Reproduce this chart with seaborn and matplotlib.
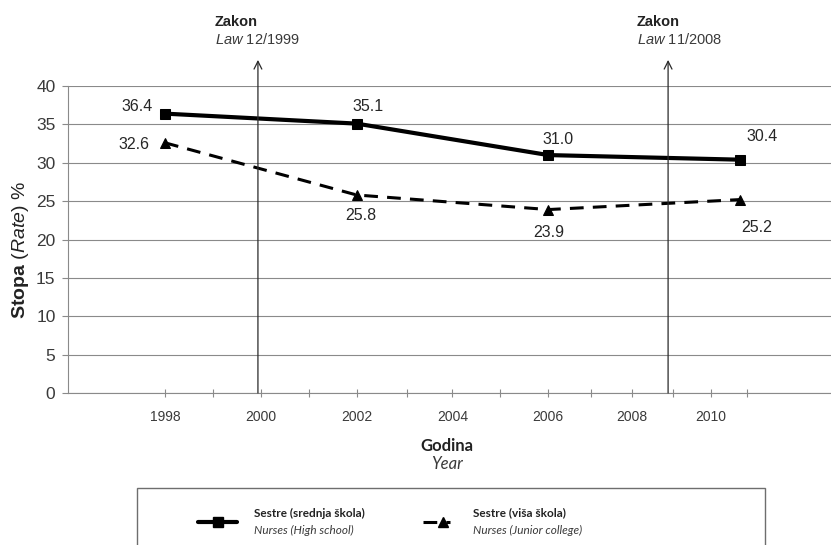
import matplotlib
matplotlib.use("Agg")
import matplotlib.pyplot as plt
from matplotlib.lines import Line2D
from matplotlib.patches import Rectangle
import pandas as pd
import seaborn as sns

# ---- data -------------------------------------------------------------
years = [1998, 2002, 2006, 2010]
high_school = [36.4, 35.1, 31.0, 30.4]
junior_college = [32.6, 25.8, 23.9, 25.2]

x_tick_pos = [1998, 1999, 2000, 2001, 2002, 2003.05, 2004, 2005, 2006,
              2006.9, 2007.75, 2008.6, 2009.4, 2010.15]
x_tick_text = ["1998", "", "2000", "", "2002", "", "2004", "", "2006",
               "", "2008", "", "2010", ""]
y_ticks = [0, 5, 10, 15, 20, 25, 30, 35, 40]

law_pos = [1999.94, 2008.5]
law_title = ["Zakon", "Zakon"]
law_number = ["12/1999", "11/2008"]

series_bold = ["Sestre (srednja škola)", "Sestre (viša škola)"]
series_italic = ["Nurses (High school)", "Nurses (Junior college)"]

# ---- style ------------------------------------------------------------
sns.set_theme(style="white")
plt.rcParams["font.family"] = ["Liberation Sans", "DejaVu Sans"]
plt.rcParams["mathtext.fontset"] = "custom"
plt.rcParams["mathtext.rm"] = "Liberation Sans"
plt.rcParams["mathtext.it"] = "Liberation Sans:italic"
plt.rcParams["mathtext.bf"] = "Liberation Sans:bold"

W, H = 831, 545
fig = plt.figure(figsize=(W / 100, H / 100), dpi=100)
fig.patch.set_facecolor("white")


def fx(px):
    return px / W


def fy(py):
    return 1 - py / H


ax = fig.add_axes([fx(68), fy(393), fx(831) - fx(68), fy(86) - fy(393)])
ax.set_facecolor("white")

grid_c = "#8a8a8a"
text_c = "#3a3a3a"

df = pd.DataFrame({"year": years, "high": high_school, "junior": junior_college})

sns.lineplot(data=df, x="year", y="high", ax=ax, color="black",
             linewidth=3.0, marker="s", markersize=6.5,
             markeredgecolor="black", markerfacecolor="black")
sns.lineplot(data=df, x="year", y="junior", ax=ax, color="black",
             linewidth=2.2, linestyle=(0, (4.5, 3.0)), marker="^",
             markersize=7, markeredgecolor="black", markerfacecolor="black")

ax.set_xlim(1995.976, 2011.90)
ax.set_ylim(0, 40)

ax.set_yticks(y_ticks)
ax.set_yticklabels([str(v) for v in y_ticks])
ax.set_xticks(x_tick_pos)
ax.set_xticklabels(x_tick_text)
ax.tick_params(axis="y", direction="out", length=4, width=0.8, color=grid_c,
               labelsize=12.5, labelcolor=text_c, pad=5, left=True)
ax.tick_params(axis="x", direction="inout", length=6, width=0.8, color=grid_c,
               labelsize=10, labelcolor=text_c, pad=9, bottom=True)

ax.yaxis.grid(True, color=grid_c, linewidth=0.8)
ax.xaxis.grid(False)
for side in ("top", "right"):
    ax.spines[side].set_visible(False)
for side in ("left", "bottom"):
    ax.spines[side].set_color(grid_c)
    ax.spines[side].set_linewidth(0.8)

ax.set_xlabel("")
ax.set_ylabel("")

# value labels
hs_off = [(-20, 5), (8, 12), (7, 11.5), (16, 16.5)]
jc_off = [(-22, -1.5), (3, -14.5), (0, -16.5), (12, -20)]
for x, y, off in zip(years, high_school, hs_off):
    ax.annotate(f"{y:.1f}", (x, y), xytext=off, textcoords="offset points",
                ha="center", va="center", fontsize=11.5, color="#262626")
for x, y, off in zip(years, junior_college, jc_off):
    ax.annotate(f"{y:.1f}", (x, y), xytext=off, textcoords="offset points",
                ha="center", va="center", fontsize=11.5, color="#262626")

# law markers
title_dx = [-0.9, -0.65]
for xp, t, n, dx in zip(law_pos, law_title, law_number, title_dx):
    ax.annotate("", xy=(xp, 43.4), xytext=(xp, 0),
                arrowprops=dict(arrowstyle="->", color="#2a2a2a", lw=0.9,
                                mutation_scale=14, shrinkA=0, shrinkB=0),
                annotation_clip=False)
    ax.text(xp + dx, 48.3, t, fontsize=10.5, fontweight="bold",
            color="#222222", ha="left", va="center", clip_on=False)
    ax.text(xp + dx, 46.0, r"$\mathit{Law}$ " + n, fontsize=10.5,
            color=text_c, ha="left", va="center", clip_on=False)

# axis titles
fig.text(fx(21), fy(250), r"$\mathbf{Stopa}$ $\mathit{(Rate)}$ %",
         rotation=90, ha="center", va="center", fontsize=14, color="#222222")
fig.text(fx(447), fy(446), "Godina", family=["Lato", "DejaVu Sans"],
         fontweight="bold", fontsize=12, ha="center", va="center",
         color="#222222")
fig.text(fx(447), fy(464), "Year", family=["Lato", "DejaVu Sans"],
         style="italic", fontsize=12, ha="center", va="center", color=text_c)

# legend
fig.add_artist(Rectangle((fx(137), fy(560)), fx(765) - fx(137),
                         fy(488) - fy(560), transform=fig.transFigure,
                         fill=False, edgecolor="#6e6e6e", linewidth=1.0))
fig.add_artist(Line2D([fx(198), fx(237)], [fy(522), fy(522)],
                      transform=fig.transFigure, color="black", linewidth=3.0))
fig.add_artist(Line2D([fx(217.5)], [fy(522)], transform=fig.transFigure,
                      marker="s", markersize=6.5, color="black"))
fig.add_artist(Line2D([fx(423), fx(450)], [fy(522), fy(522)],
                      transform=fig.transFigure, color="black", linewidth=2.2,
                      linestyle=(0, (4.5, 3.0))))
fig.add_artist(Line2D([fx(443)], [fy(522)], transform=fig.transFigure,
                      marker="^", markersize=7, color="black"))
for left, b, i in zip([254, 473], series_bold, series_italic):
    fig.text(fx(left), fy(513), b, family=["Lato", "DejaVu Sans"],
             fontweight="bold", fontsize=8.5, ha="left", va="center",
             color="#222222")
    fig.text(fx(left), fy(530), i, family=["Lato", "DejaVu Sans"],
             style="italic", fontsize=8.5, ha="left", va="center", color=text_c)

fig.savefig("out.png", dpi=100, facecolor="white")
